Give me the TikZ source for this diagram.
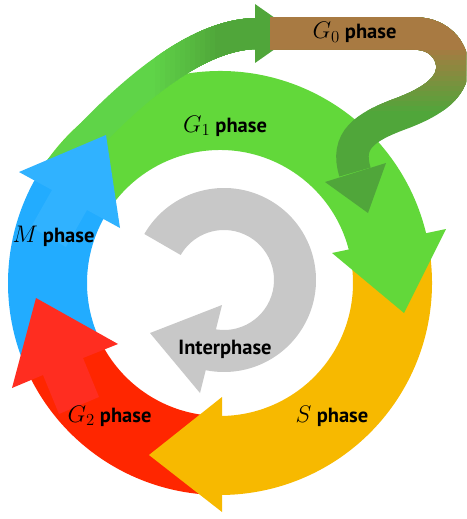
\RequirePackage{fix-cm}
\documentclass[tikz,border=0pt]{standalone}
\usepackage[no-math]{fontspec}
\newfontfamily\labfont{PT Sans}
\definecolor{ringgreen}{RGB}{98,216,58}
\definecolor{bandgreen}{RGB}{95,212,72}
\definecolor{darkgreen}{RGB}{80,166,58}
\definecolor{brownband}{RGB}{168,122,66}
\definecolor{sorange}{RGB}{247,185,0}
\definecolor{redbody}{RGB}{255,38,0}
\definecolor{redhead}{RGB}{255,45,32}
\definecolor{bluebody}{RGB}{34,172,255}
\definecolor{bluehead}{RGB}{48,178,255}
\definecolor{greyarrow}{RGB}{200,200,200}
\newcommand\ringsector[3]{\fill[#1] ([shift={(220,-283)}]#2:212) arc[start angle=#2,end angle=#3,radius=212] -- ([shift={(220,-283)}]#3:133) arc[start angle=#3,end angle=#2,radius=133] -- cycle;}
\newcommand\mth[1]{{\fontsize{24}{24}\selectfont$#1$}}
\def\greenpath{(53.8,-176) .. controls (104.5,-116.7) and (185,-33.5) .. (258,-33.5)}
\def\brownpath{(270,-33.5) -- (415,-33.5) .. controls (442,-33.5) and (455,-55) .. (452,-72) .. controls (449,-90) and (430,-103) .. (400,-114) .. controls (365,-127) and (345,-140) .. (355,-172)}
\begin{document}
\begin{tikzpicture}[x=1pt,y=1pt,
  lbl/.style={font=\labfont\bfseries\fontsize{20.5}{24}\selectfont, text=black, inner sep=0pt, anchor=base}]
\useasboundingbox (0,0) rectangle (466,-519);
\clip (0,0) rectangle (466,-519);
% ring bodies
\ringsector{ringgreen}{147}{10}
\ringsector{sorange}{10}{-93}
\ringsector{redbody}{-93}{-157}
\ringsector{bluebody}{203}{147}
% G0 band: green part
\draw[bandgreen, line width=31] \greenpath;
\foreach \i in {1,...,13}{
  \pgfmathsetmacro\xx{150+5*\i}
  \pgfmathtruncatemacro\pp{100*\i/13}
  \begin{scope}
    \clip (\xx,10) rectangle (470,-300);
    \draw[darkgreen!\pp!bandgreen, line width=31] \greenpath;
  \end{scope}
}
\fill[darkgreen] (255,-4) -- (297,-33.5) -- (255,-63) -- cycle;
% G0 band: brown loop
\draw[darkgreen, line width=32.5] \brownpath;
\foreach \i in {1,...,13}{
  \pgfmathsetmacro\yy{115-5*\i}
  \pgfmathtruncatemacro\pp{100*\i/13}
  \begin{scope}
    \clip (0,-\yy) rectangle (470,10);
    \draw[brownband!\pp!darkgreen, line width=32.5] \brownpath;
  \end{scope}
}
\fill[darkgreen] (325,-182) -- (386,-163) -- (368,-213) -- cycle;
% ring arrow heads
\fill[ringgreen] (332,-253) -- (446,-229) -- (404,-313) -- cycle;
\fill[sorange] (222,-397) -- (222,-512) -- (149,-455) -- cycle;
\fill[redhead] (36,-298) -- (118,-344) -- (83,-358) -- (99,-397) -- (59,-414) -- (43,-375) -- (12,-388) -- cycle;
\fill[bluehead] (106,-135) -- (120,-228) -- (87,-210) -- (66,-247) -- (31,-227) -- (52,-190) -- (19,-172) -- cycle;
% interphase arrow
\fill[greyarrow] ([shift={(224,-280)}]150:92) arc[start angle=150,end angle=-103,radius=92] -- ([shift={(224,-280)}]-103:50) arc[start angle=-103,end angle=150,radius=50] -- cycle;
\fill[greyarrow] (222,-305) -- (200,-393) -- (150,-333) -- cycle;
% labels
\node[lbl] (g0) at (354.5,-39) {\mth{G_0} phase};
\node[lbl] (g1) at (225,-132) {\mth{G_1} phase};
\node[lbl] (m) at (53.5,-242) {\mth{M} phase};
\node[lbl] (g2) at (109.5,-422) {\mth{G_2} phase};
\node[lbl] (s) at (332,-422) {\mth{S} phase};
\node[lbl] (inter) at (225,-354) {Interphase};
\end{tikzpicture}
\end{document}
